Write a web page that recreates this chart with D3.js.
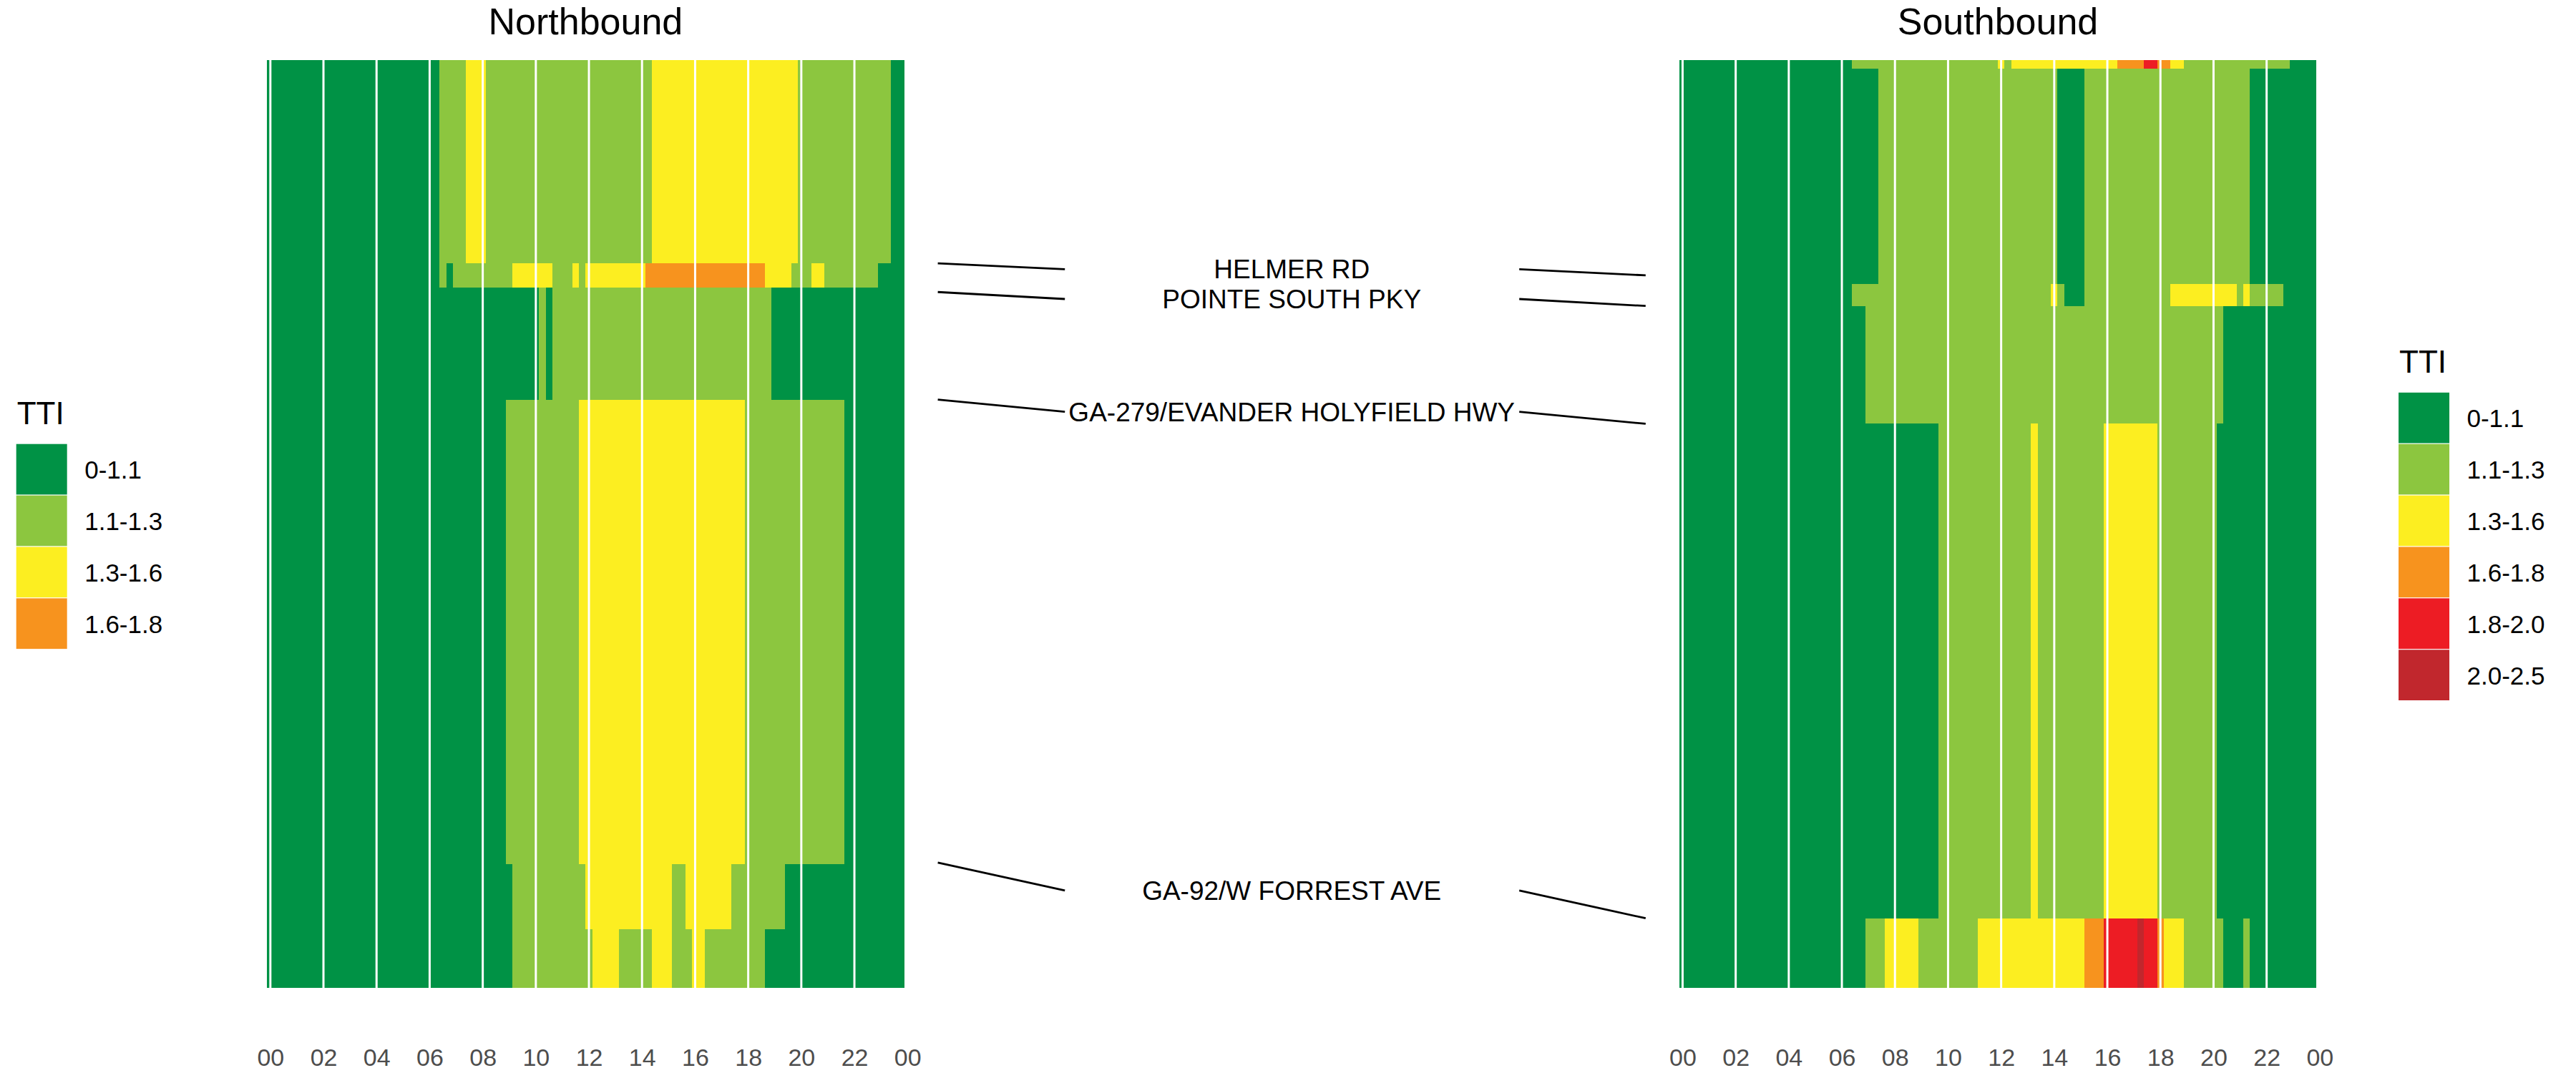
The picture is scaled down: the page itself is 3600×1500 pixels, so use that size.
<!DOCTYPE html>
<html>
<head>
<meta charset="utf-8">
<script src="https://cdn.jsdelivr.net/npm/d3@7"></script>
<style>
  html, body { margin: 0; padding: 0; background: #ffffff; }
  svg { display: block; font-family: "Liberation Sans", Arial, Helvetica, sans-serif; }
</style>
</head>
<body>
<svg id="chart" width="3600" height="1500"></svg>
<script>
// ---------------- DATA ----------------
// TTI categories and colours
const categories = ["0-1.1", "1.1-1.3", "1.3-1.6", "1.6-1.8", "1.8-2.0", "2.0-2.5"];
const categoryColors = ["#009245", "#8cc63f", "#fcee21", "#f7931e", "#ed1c24", "#c1272d"];

// hour-of-day ticks
const hourTicks = [0, 2, 4, 6, 8, 10, 12, 14, 16, 18, 20, 22, 24];
const hourTickLabels = ["00", "02", "04", "06", "08", "10", "12", "14", "16", "18", "20", "22", "00"];
const binHours = 0.25; // 15-minute bins

// corridor position (percent of corridor length, 0 = top of panel)
const nbSegmentBounds = [0, 21.9, 24.5, 36.6, 86.7, 93.7, 100];
const sbSegmentBounds = [0, 0.9, 24.1, 26.5, 39.2, 92.5, 100];

// each segment: runs of [start hour, category index] (a run lasts until the next run starts)
const nbSegmentRuns = [
  [[0,0],[6.5,1],[7.5,2],[8.25,1],[14.5,2],[20,1],[23.5,0]],
  [[0,0],[6.5,1],[6.75,0],[7,1],[9.25,2],[10.75,1],[11.5,2],[11.75,1],[12,2],[14.25,3],[18.75,2],[19.75,1],[20.5,2],[21,1],[23,0]],
  [[0,0],[10.25,1],[10.5,0],[10.75,1],[19,0]],
  [[0,0],[9,1],[11.75,2],[18,1],[21.75,0]],
  [[0,0],[9.25,1],[12,2],[15.25,1],[15.75,2],[17.5,1],[19.5,0]],
  [[0,0],[9.25,1],[12.25,2],[13.25,1],[14.5,2],[15.25,1],[16,2],[16.5,1],[18.75,0]]
];
const sbSegmentRuns = [
  [[0,0],[6.5,1],[12,2],[12.25,1],[12.5,2],[16.5,3],[17.5,4],[18,3],[18.5,2],[19,1],[23,0]],
  [[0,0],[7.5,1],[14.25,0],[15.25,1],[21.5,0]],
  [[0,0],[6.5,1],[14,2],[14.25,1],[14.5,0],[15.25,1],[18.5,2],[21,1],[21.25,2],[21.5,1],[22.75,0]],
  [[0,0],[7,1],[20.5,0]],
  [[0,0],[9.75,1],[13.25,2],[13.5,1],[16,2],[18,1],[20.25,0]],
  [[0,0],[7,1],[7.75,2],[9,1],[11.25,2],[15.25,3],[16,4],[17.25,5],[17.5,4],[18,3],[18.25,2],[19,1],[20.5,0],[21.25,1],[21.5,0]]
];

// cross streets and where they meet each direction (corridor position %)
const crossStreets = ["HELMER RD", "POINTE SOUTH PKY", "GA-279/EVANDER HOLYFIELD HWY", "GA-92/W FORREST AVE"];
const crossStreetNB = [21.9, 25.0, 36.6, 86.5];
const crossStreetSB = [23.2, 26.5, 39.2, 92.5];

// ---------------- LAYOUT ----------------
const svg = d3.select("#chart");
svg.append("rect").attr("width", 3600).attr("height", 1500).attr("fill", "#ffffff");

const panelTop = 84, panelBottom = 1381;
const yScale = d3.scaleLinear().domain([0, 100]).range([panelTop, panelBottom]);
const color = d3.scaleOrdinal().domain(d3.range(categories.length)).range(categoryColors);

const panels = [
  { title: "Northbound", x0: 373.2, x1: 1263.6, bounds: nbSegmentBounds, runs: nbSegmentRuns },
  { title: "Southbound", x0: 2346.8, x1: 3237.2, bounds: sbSegmentBounds, runs: sbSegmentRuns }
];

function expandRuns(runs, bounds) {
  const cells = [];
  runs.forEach((segRuns, si) => {
    for (let r = 0; r < segRuns.length; r++) {
      const start = segRuns[r][0];
      const end = r + 1 < segRuns.length ? segRuns[r + 1][0] : 24;
      for (let t = start; t < end - 1e-9; t += binHours) {
        cells.push({ hour: t, cat: segRuns[r][1], y0: bounds[si], y1: bounds[si + 1] });
      }
    }
  });
  return cells;
}

panels.forEach(p => {
  const x = d3.scaleLinear().domain([-binHours / 2, 24 - binHours / 2]).range([p.x0, p.x1]);
  p.xScale = x;
  const g = svg.append("g");
  const cells = expandRuns(p.runs, p.bounds);

  g.selectAll("rect.cell").data(cells).enter().append("rect")
    .attr("class", "cell")
    .attr("x", d => x(d.hour - binHours / 2))
    .attr("width", d => x(d.hour + binHours / 2) - x(d.hour - binHours / 2))
    .attr("y", d => yScale(d.y0))
    .attr("height", d => yScale(d.y1) - yScale(d.y0))
    .attr("fill", d => color(d.cat))
    .attr("shape-rendering", "crispEdges");

  // white vertical grid lines on top
  g.selectAll("line.grid").data(hourTicks.filter(h => h < 24)).enter().append("line")
    .attr("class", "grid")
    .attr("x1", d => x(d)).attr("x2", d => x(d))
    .attr("y1", panelTop).attr("y2", panelBottom)
    .attr("stroke", "#ffffff").attr("stroke-width", 3);

  // x axis labels
  const axis = d3.axisBottom(x).tickValues(hourTicks)
    .tickFormat((d, i) => hourTickLabels[i]).tickSize(0);
  const ag = svg.append("g").attr("transform", "translate(0,1490)").call(axis);
  ag.select(".domain").remove();
  ag.selectAll("text").attr("y", 0).attr("dy", null)
    .attr("font-size", 34).attr("fill", "#4d4d4d")
    .attr("font-family", "Liberation Sans, Arial, sans-serif");

  // title
  svg.append("text").attr("x", (p.x0 + p.x1) / 2).attr("y", 48)
    .attr("text-anchor", "middle").attr("font-size", 52).attr("fill", "#000")
    .text(p.title);
});

// ---------------- CROSS STREET LABELS ----------------
const nbP = panels[0], sbP = panels[1];
const midX = (nbP.x1 + sbP.x0) / 2;
const lg = svg.append("g");
crossStreets.forEach((name, i) => {
  const yNB = yScale(crossStreetNB[i]);
  const ySB = yScale(crossStreetSB[i]);
  const yMid = yScale((crossStreetNB[i] + crossStreetSB[i]) / 2);
  lg.append("line").attr("x1", nbP.x1 + 47).attr("y1", yNB)
    .attr("x2", midX - 317).attr("y2", yMid)
    .attr("stroke", "#000").attr("stroke-width", 2.8);
  lg.append("line").attr("x1", midX + 318).attr("y1", yMid)
    .attr("x2", sbP.x0 - 47).attr("y2", ySB)
    .attr("stroke", "#000").attr("stroke-width", 2.8);
  lg.append("text").attr("x", midX).attr("y", yMid + 13)
    .attr("text-anchor", "middle").attr("font-size", 37).attr("fill", "#000")
    .text(name);
});

// ---------------- LEGENDS ----------------
function legend(x, titleY, keyTop, n) {
  const g = svg.append("g");
  g.append("text").attr("x", x + 1).attr("y", titleY).attr("font-size", 44).attr("fill", "#000").text("TTI");
  const keyH = 71.9, keyW = 71;
  const items = d3.range(n);
  g.selectAll("rect").data(items).enter().append("rect")
    .attr("x", x).attr("y", d => keyTop + d * keyH)
    .attr("width", keyW).attr("height", keyH - 1.2)
    .attr("fill", d => color(d));
  g.selectAll("text.lab").data(items).enter().append("text")
    .attr("class", "lab")
    .attr("x", x + keyW + 24.5).attr("y", d => keyTop + d * keyH + keyH / 2 + 12.5)
    .attr("font-size", 35).attr("fill", "#000")
    .text(d => categories[d]);
}
legend(22.7, 593.3, 620.7, 4);
legend(3352, 521.3, 548.8, 6);
</script>
</body>
</html>
